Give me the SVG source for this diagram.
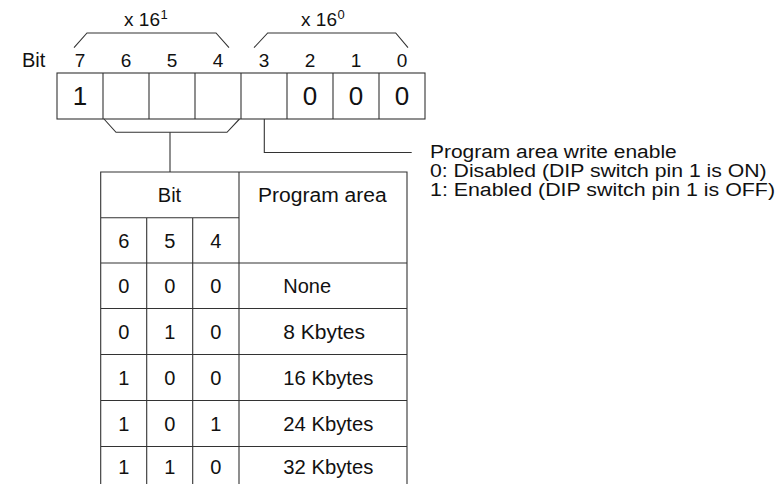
<svg xmlns="http://www.w3.org/2000/svg" width="777" height="492" viewBox="0 0 777 492">
<style>
.ln{fill:none;stroke:#333;stroke-width:1.1}
text{font-family:"Liberation Sans",Arial,Helvetica,sans-serif;fill:#111}
.lb{font-size:19px;text-anchor:middle}
.bv{font-size:26px;text-anchor:middle}
.td{font-size:20px;text-anchor:middle}
.tx{font-size:20px}
.nt{font-size:18px}
.sup{font-size:13px}
</style>
<rect width="777" height="492" fill="#fff"/>
<g id="scale-hi">
<text class="lb" x="142" y="26">x 16</text><text class="sup" x="160.5" y="19">1</text>
</g>
<g id="scale-lo">
<text class="lb" x="319" y="26">x 16</text><text class="sup" x="337.5" y="19">0</text>
</g>
<g id="bit-label"><text class="tx" x="22" y="67">Bit</text></g>
<g id="bit-numbers">
<text class="lb" x="80" y="67">7</text>
<text class="lb" x="126" y="67">6</text>
<text class="lb" x="172" y="67">5</text>
<text class="lb" x="218" y="67">4</text>
<text class="lb" x="264" y="67">3</text>
<text class="lb" x="310" y="67">2</text>
<text class="lb" x="356" y="67">1</text>
<text class="lb" x="402" y="67">0</text>
</g>
<g id="register">
<rect class="ln" x="57" y="73" width="368" height="46"/>
<path class="ln" d="M103,73V119M149,73V119M195,73V119M241,73V119M287,73V119M333,73V119M379,73V119"/>
<text class="bv" x="80" y="105">1</text>
<text class="bv" x="310" y="105">0</text>
<text class="bv" x="356" y="105">0</text>
<text class="bv" x="402" y="105">0</text>
</g>
<g id="connectors">
<polyline class="ln" points="74,47.7 87,33 216,33 229,47.7"/>
<polyline class="ln" points="254,47.7 267.7,33 395.7,33 408,47.7"/>
<polyline class="ln" points="104,119 116,132.3 227,132.3 239.5,119"/>
<path class="ln" d="M170,132.3V172"/>
<polyline class="ln" points="264.3,119 264.3,152.5 411.7,152.5"/>
</g>
<g id="write-enable-note">
<text class="nt" x="430" y="157.5" textLength="246.7" lengthAdjust="spacingAndGlyphs">Program area write enable</text>
<text class="nt" x="430" y="176.5" textLength="336.7" lengthAdjust="spacingAndGlyphs">0: Disabled (DIP switch pin 1 is ON)</text>
<text class="nt" x="430" y="195.5" textLength="345" lengthAdjust="spacingAndGlyphs">1: Enabled (DIP switch pin 1 is OFF)</text>
</g>
<g id="program-area-table">
<path class="ln" d="M100.7,484V172H407V484M146.7,217.7V484M192.7,217.7V484M239,172V484M100.7,217.7H239M100.7,263H407M100.7,308.5H407M100.7,354.5H407M100.7,400.5H407M100.7,446.5H407"/>
<text class="td" x="169.5" y="201.5">Bit</text>
<text class="tx" x="258" y="201.5" textLength="128.7" lengthAdjust="spacingAndGlyphs">Program area</text>
<text class="td" x="123.7" y="248">6</text><text class="td" x="169.7" y="248">5</text><text class="td" x="215.8" y="248">4</text>
<text class="td" x="123.7" y="293">0</text><text class="td" x="169.7" y="293">0</text><text class="td" x="215.8" y="293">0</text>
<text class="tx" x="283.3" y="293">None</text>
<text class="td" x="123.7" y="338.5">0</text><text class="td" x="169.7" y="338.5">1</text><text class="td" x="215.8" y="338.5">0</text>
<text class="tx" x="283.3" y="338.5" textLength="81.7" lengthAdjust="spacingAndGlyphs">8 Kbytes</text>
<text class="td" x="123.7" y="384.5">1</text><text class="td" x="169.7" y="384.5">0</text><text class="td" x="215.8" y="384.5">0</text>
<text class="tx" x="283.3" y="384.5" textLength="90" lengthAdjust="spacingAndGlyphs">16 Kbytes</text>
<text class="td" x="123.7" y="430.5">1</text><text class="td" x="169.7" y="430.5">0</text><text class="td" x="215.8" y="430.5">1</text>
<text class="tx" x="283.3" y="430.5" textLength="90" lengthAdjust="spacingAndGlyphs">24 Kbytes</text>
<text class="td" x="123.7" y="474">1</text><text class="td" x="169.7" y="474">1</text><text class="td" x="215.8" y="474">0</text>
<text class="tx" x="283.3" y="474" textLength="90" lengthAdjust="spacingAndGlyphs">32 Kbytes</text>
</g>
</svg>
